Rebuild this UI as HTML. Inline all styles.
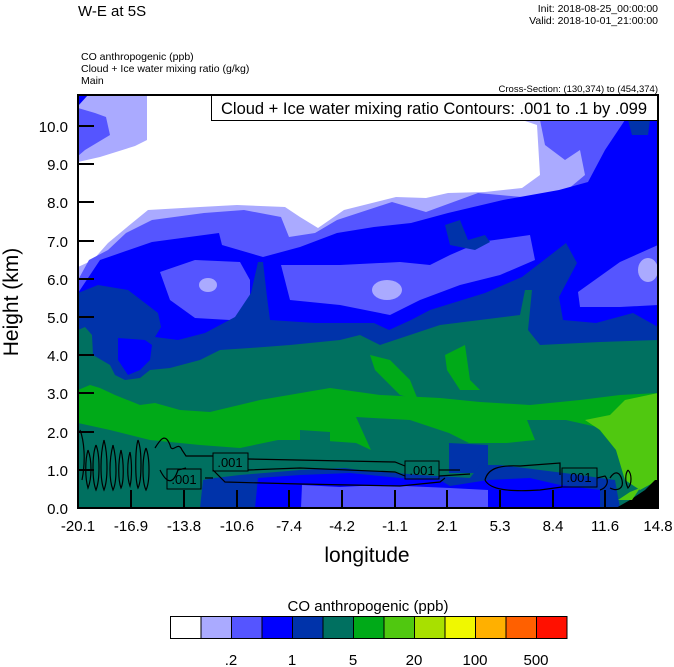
<!DOCTYPE html>
<html><head><meta charset="utf-8"><style>
html,body{margin:0;padding:0;background:#fff;}
svg{display:block;font-family:"Liberation Sans",Arial,sans-serif;}
</style></head><body>
<svg width="674" height="667" viewBox="0 0 674 667" xmlns="http://www.w3.org/2000/svg">
<defs><clipPath id="pc"><rect x="78" y="95" width="580" height="413"/></clipPath></defs>
<g clip-path="url(#pc)">
<rect x="78" y="95" width="580" height="413" fill="#fff"/>
<path fill="#aaaaff" d="M78,95 L147,95 L147,140 L135,146 L100,157 L78,162 Z"/>
<path fill="#aaaaff" d="M78,267 L93,260 L108,243 L126,228 L148,210 L200,207 L237,205 L285,207 L300,217 L318,228 L344,210 L396,197 L426,198 L448,193 L485,192 L522,188 L540,175 L537,125 L522,120 L658,120 L658,508 L78,508 Z"/>
<path fill="#5555ff" d="M78,108 L95,113 L106,117 L110,135 L100,141 L85,150 L78,156 Z"/>
<path fill="#5555ff" d="M78,280 L89,260 L108,250 L126,233 L152,220 L204,213 L244,210 L281,217 L289,237 L315,233 L337,220 L392,202 L426,212 L478,193 L555,200 L585,175 L580,150 L565,160 L545,145 L540,120 L658,120 L658,508 L78,508 Z"/>
<path fill="#0000ff" d="M78,95 L88,95 L78,106 Z"/>
<path fill="#0000ff" d="M78,293 L100,260 L152,242 L219,233 L222,245 L263,257 L300,247 L337,233 L374,227 L411,223 L448,213 L503,200 L559,190 L588,182 L605,150 L625,120 L658,120 L658,508 L78,508 Z"/>
<path fill="#5555ff" d="M160,272 L195,260 L240,262 L250,280 L250,310 L230,320 L195,318 L170,300 Z"/>
<path fill="#5555ff" d="M281,265 L340,265 L400,262 L430,265 L450,255 L480,242 L530,235 L535,260 L500,275 L460,285 L420,300 L390,315 L340,305 L290,300 Z"/>
<path fill="#5555ff" d="M578,292 L620,262 L658,245 L658,305 L620,307 L580,307 Z"/>
<ellipse cx="208" cy="285" rx="9" ry="7" fill="#aaaaff"/>
<ellipse cx="387" cy="290" rx="15" ry="10" fill="#aaaaff"/>
<ellipse cx="648" cy="270" rx="10" ry="12" fill="#aaaaff"/>
<path fill="#0033aa" d="M445,225 L460,220 L468,240 L485,235 L490,242 L475,250 L450,245 Z"/>
<path fill="#0033aa" d="M628,120 L650,120 L648,135 L632,135 Z"/>
<path fill="#0033aa" d="M78,293 L98,285 L128,290 L145,303 L158,313 L161,327 L155,337 L178,340 L205,333 L235,317 L251,293 L258,262 L263,262 L267,297 L270,320 L315,323 L374,323 L389,330 L411,320 L430,310 L485,293 L522,277 L548,257 L566,243 L577,263 L559,297 L563,320 L596,323 L633,313 L658,327 L658,508 L78,508 Z"/>
<path fill="#007060" d="M78,330 L85,327 L92,335 L93,355 L110,365 L115,375 L125,380 L140,378 L150,370 L170,368 L200,360 L220,350 L250,348 L290,345 L340,340 L360,335 L380,345 L410,335 L440,325 L480,320 L520,315 L525,290 L532,290 L528,330 L540,345 L600,342 L658,340 L658,508 L78,508 Z"/>
<path fill="#0000ff" d="M118,338 L145,340 L152,345 L150,360 L140,370 L128,375 L118,360 Z"/>
<path fill="#00aa18" d="M370,355 L390,360 L410,380 L418,400 L400,395 L375,370 Z"/>
<path fill="#00aa18" d="M445,355 L465,345 L470,380 L480,390 L460,390 L447,370 Z"/>
<path fill="#00aa18" d="M78,390 L90,385 L100,388 L115,395 L140,405 L155,403 L180,410 L210,412 L260,400 L330,388 L380,395 L440,398 L480,402 L530,405 L580,400 L620,395 L658,393 L658,477 L655,483 L644,487 L624,477 L616,450 L597,427 L566,420 L527,420 L535,440 L507,443 L469,443 L449,433 L410,420 L356,417 L371,450 L356,443 L313,440 L278,440 L240,448 L200,445 L150,440 L110,430 L78,423 Z"/>
<path fill="#50c810" d="M585,420 L610,415 L625,400 L658,393 L658,480 L640,490 L625,480 L616,450 L600,430 Z"/>
<path fill="#007060" d="M300,430 L330,432 L330,443 L300,443 Z"/>
<path fill="#0033aa" d="M449,443 L488,445 L488,473 L449,473 Z"/>
<path fill="#0033aa" d="M200,508 L203,480 L215,478 L240,475 L300,470 L345,468 L360,470 L420,475 L470,478 L480,465 L500,465 L540,470 L580,475 L600,478 L615,480 L620,508 Z"/>
<path fill="#0000ff" d="M255,508 L258,478 L300,475 L350,473 L400,478 L440,480 L450,486 L488,480 L530,478 L560,485 L600,490 L600,508 Z"/>
<path fill="#5555ff" d="M301,508 L302,485 L340,487 L380,485 L450,488 L488,490 L488,508 Z"/>
<path fill="#000" d="M616,508 L630,500 L645,490 L655,480 L658,480 L658,508 Z"/>
<path fill="#50c810" d="M618,500 L630,492 L640,488 L632,500 Z"/>
<g fill="none" stroke="#000" stroke-width="1.2">
<path d="M80,430 C84,440 86,460 82,480 M88,450 C92,460 92,478 88,488 C85,478 85,460 88,450 M96,445 C100,455 100,480 96,490 C92,480 92,455 96,445 M104,440 C108,455 108,480 104,490 C100,480 100,455 104,440 M113,445 C117,460 117,482 113,490 C109,480 109,460 113,445 M121,450 C124,462 124,482 121,488 C118,480 118,462 121,450 M130,452 C132,462 132,478 130,486 C127,478 127,462 130,452"/>
<path d="M138,440 C142,450 142,480 138,488 C135,480 135,450 138,440 M146,448 C150,458 150,482 146,490 C142,482 142,458 146,448 M155,448 C160,440 165,432 170,445 C172,455 178,440 182,450 L186,456 L213,456"/>
<path d="M160,470 C165,480 172,488 178,470 L186,468 M205,478 L213,478"/>
<path d="M248,459 L395,462 L405,466 M248,470 L300,468 L395,472 L405,476 M439,470 L460,470 M439,476 L470,474"/>
<path d="M213,470 L225,482 L300,484 L400,486 L440,482 L445,478"/>
<path d="M485,480 C488,468 500,465 520,466 L560,463 L560,475 M485,480 C490,490 510,492 540,490 L562,487 M597,478 L605,476 C610,482 606,488 600,490"/>
<path d="M610,478 C615,470 620,472 622,480 C624,488 618,492 610,488 M628,470 C632,474 632,484 628,488 C625,482 625,474 628,470"/>
</g>
<g font-size="13" fill="#000">
<rect x="167" y="469" width="34" height="20" fill="none" stroke="#000" stroke-width="1"/><text x="184" y="484" text-anchor="middle">.001</text>
<rect x="213" y="453" width="35" height="18" fill="none" stroke="#000" stroke-width="1"/><text x="230" y="467" text-anchor="middle">.001</text>
<rect x="405" y="461" width="34" height="18" fill="none" stroke="#000" stroke-width="1"/><text x="422" y="475" text-anchor="middle">.001</text>
<rect x="562" y="468" width="35" height="19" fill="none" stroke="#000" stroke-width="1"/><text x="579" y="482" text-anchor="middle">.001</text>
</g>
</g>
<rect x="211.5" y="95.5" width="446" height="25" fill="#fff" stroke="#000" stroke-width="1"/>
<text x="434" y="114" font-size="16.5" text-anchor="middle">Cloud + Ice water mixing ratio Contours: .001 to .1 by .099</text>
<rect x="78" y="95" width="580" height="413" fill="none" stroke="#000" stroke-width="2"/>
<g stroke="#000" stroke-width="2">
<line x1="78" y1="508" x2="94" y2="508"/><line x1="78" y1="470" x2="94" y2="470"/><line x1="78" y1="432" x2="94" y2="432"/><line x1="78" y1="393" x2="94" y2="393"/><line x1="78" y1="355" x2="94" y2="355"/><line x1="78" y1="317" x2="94" y2="317"/><line x1="78" y1="279" x2="94" y2="279"/><line x1="78" y1="241" x2="94" y2="241"/><line x1="78" y1="202" x2="94" y2="202"/><line x1="78" y1="164" x2="94" y2="164"/><line x1="78" y1="126" x2="94" y2="126"/>
<line x1="78" y1="508" x2="78" y2="490"/><line x1="131" y1="508" x2="131" y2="490"/><line x1="184" y1="508" x2="184" y2="490"/><line x1="237" y1="508" x2="237" y2="490"/><line x1="289" y1="508" x2="289" y2="490"/><line x1="342" y1="508" x2="342" y2="490"/><line x1="395" y1="508" x2="395" y2="490"/><line x1="447" y1="508" x2="447" y2="490"/><line x1="500" y1="508" x2="500" y2="490"/><line x1="553" y1="508" x2="553" y2="490"/><line x1="605" y1="508" x2="605" y2="490"/><line x1="658" y1="508" x2="658" y2="490"/>
</g>
<g font-size="15" text-anchor="end">
<text x="68" y="514">0.0</text><text x="68" y="476">1.0</text><text x="68" y="438">2.0</text><text x="68" y="399">3.0</text><text x="68" y="361">4.0</text><text x="68" y="323">5.0</text><text x="68" y="285">6.0</text><text x="68" y="247">7.0</text><text x="68" y="208">8.0</text><text x="68" y="170">9.0</text><text x="68" y="132">10.0</text>
</g>
<g font-size="15" text-anchor="middle">
<text x="78" y="531">-20.1</text><text x="131" y="531">-16.9</text><text x="184" y="531">-13.8</text><text x="237" y="531">-10.6</text><text x="289" y="531">-7.4</text><text x="342" y="531">-4.2</text><text x="395" y="531">-1.1</text><text x="447" y="531">2.1</text><text x="500" y="531">5.3</text><text x="553" y="531">8.4</text><text x="605" y="531">11.6</text><text x="658" y="531">14.8</text>
</g>
<text x="367" y="562" font-size="21" text-anchor="middle">longitude</text>
<text transform="translate(18,302) rotate(-90)" font-size="21" text-anchor="middle">Height (km)</text>
<text x="78" y="16" font-size="15">W-E at 5S</text>
<text x="658" y="12" font-size="10.5" text-anchor="end">Init: 2018-08-25_00:00:00</text>
<text x="658" y="24" font-size="10.5" text-anchor="end">Valid: 2018-10-01_21:00:00</text>
<text x="81" y="60" font-size="10.5">CO anthropogenic   (ppb)</text>
<text x="81" y="72" font-size="10.5">Cloud + Ice water mixing ratio   (g/kg)</text>
<text x="81" y="84" font-size="10.5">Main</text>
<text x="658" y="92" font-size="9.5" text-anchor="end">Cross-Section: (130,374) to (454,374)</text>
<text x="368" y="611" font-size="15" text-anchor="middle">CO anthropogenic  (ppb)</text>
<g stroke="#000" stroke-width="1">
<rect x="170.5" y="616.5" width="30.5" height="22" fill="#ffffff"/>
<rect x="201" y="616.5" width="30.5" height="22" fill="#aaaaff"/>
<rect x="231.5" y="616.5" width="30.5" height="22" fill="#5555ff"/>
<rect x="262" y="616.5" width="30.5" height="22" fill="#0000ff"/>
<rect x="292.5" y="616.5" width="30.5" height="22" fill="#0033aa"/>
<rect x="323" y="616.5" width="30.5" height="22" fill="#007060"/>
<rect x="353.5" y="616.5" width="30.5" height="22" fill="#00aa18"/>
<rect x="384" y="616.5" width="30.5" height="22" fill="#50c810"/>
<rect x="414.5" y="616.5" width="30.5" height="22" fill="#a8e000"/>
<rect x="445" y="616.5" width="30.5" height="22" fill="#f0f800"/>
<rect x="475.5" y="616.5" width="30.5" height="22" fill="#ffb000"/>
<rect x="506" y="616.5" width="30.5" height="22" fill="#ff6000"/>
<rect x="536.5" y="616.5" width="30.5" height="22" fill="#ff1000"/>
</g>
<g font-size="15" text-anchor="middle">
<text x="231" y="665">.2</text><text x="292" y="665">1</text><text x="353" y="665">5</text><text x="414" y="665">20</text><text x="475" y="665">100</text><text x="536" y="665">500</text>
</g>
</svg>
</body></html>
